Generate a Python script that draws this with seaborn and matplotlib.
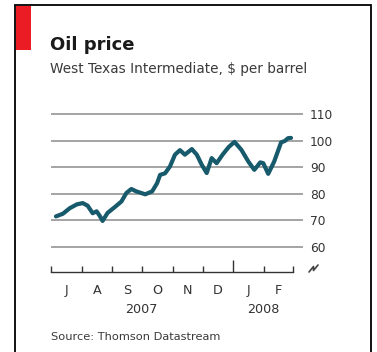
import matplotlib
matplotlib.use("Agg")
import matplotlib.pyplot as plt
import matplotlib.dates as mdates
from matplotlib.lines import Line2D
from matplotlib.patches import Rectangle
import seaborn as sns
import pandas as pd

# West Texas Intermediate spot price, $ per barrel
dates = [
    "2007-07-06", "2007-07-13", "2007-07-20", "2007-07-27", "2007-08-02",
    "2007-08-07", "2007-08-12", "2007-08-16", "2007-08-19", "2007-08-22",
    "2007-08-27", "2007-09-03", "2007-09-10", "2007-09-15", "2007-09-20",
    "2007-09-25", "2007-10-04", "2007-10-11", "2007-10-16", "2007-10-19",
    "2007-10-24", "2007-10-29", "2007-11-03", "2007-11-08", "2007-11-13",
    "2007-11-20", "2007-11-25", "2007-11-30", "2007-12-05", "2007-12-10",
    "2007-12-15", "2007-12-21", "2007-12-27", "2008-01-02", "2008-01-09",
    "2008-01-16", "2008-01-22", "2008-01-28", "2008-01-31", "2008-02-05",
    "2008-02-11", "2008-02-18", "2008-02-22", "2008-02-25", "2008-02-28",
]
prices = [
    71.5, 72.5, 74.6, 76.0, 76.5,
    75.5, 72.7, 73.4, 71.8, 69.8,
    72.8, 74.9, 77.1, 80.3, 81.8,
    80.9, 79.8, 80.9, 84.0, 87.1,
    87.7, 90.3, 94.7, 96.4, 94.7,
    96.8, 94.7, 90.9, 87.8, 93.4,
    91.5, 94.7, 97.5, 99.5, 96.5,
    92.1, 89.0, 91.8, 91.5, 87.5,
    92.1, 99.3, 99.9, 100.9, 101.0,
]
y_ticks = [60, 70, 80, 90, 100, 110]
month_labels = ["J", "A", "S", "O", "N", "D", "J", "F"]
year_labels = ["2007", "2008"]

df = pd.DataFrame({"date": pd.to_datetime(dates), "price": prices})

sns.set_theme(style="white")
plt.rcParams["font.family"] = ["DejaVu Sans"]

W, H = 377, 352
fig = plt.figure(figsize=(W / 100, H / 100), dpi=100)
fig.patch.set_facecolor("white")


def fx(px):
    return px / W


def fy(py):
    return 1 - py / H


# Frame and red tab
fig.add_artist(Rectangle((fx(15), fy(360)), fx(371) - fx(15), fy(5) - fy(360),
                         transform=fig.transFigure, fill=False,
                         edgecolor="black", linewidth=1.3))
fig.add_artist(Rectangle((fx(16), fy(50)), fx(31) - fx(16), fy(6) - fy(50),
                         transform=fig.transFigure, facecolor="#ec1c24",
                         edgecolor="none"))

fig.text(fx(50), fy(50), "Oil price", fontsize=13, fontweight="bold",
         color="#1a1a1a", ha="left", va="baseline")
fig.text(fx(50), fy(73), "West Texas Intermediate, $ per barrel",
         fontsize=9.8, color="#3a3a3a", ha="left", va="baseline")
fig.text(fx(51), fy(340), "Source: Thomson Datastream", fontsize=8.2,
         color="#3a3a3a", ha="left", va="baseline")

ax = fig.add_axes([fx(51), fy(272), fx(303) - fx(51), fy(111.3) - fy(272)])
ax.set_facecolor("white")

x0 = pd.Timestamp("2007-07-01")
x_end = pd.Timestamp("2008-03-01")
x1 = x0 + (x_end - x0) * (252 / 242)
ax.set_xlim(x0, x1)
ax.set_ylim(50.6, 111)

for v in y_ticks:
    ax.axhline(v, color="#8c8c8c", linewidth=1.1, zorder=1)

sns.lineplot(data=df, x="date", y="price", ax=ax, color="#175a6c",
             linewidth=3.0, zorder=3, solid_capstyle="round",
             solid_joinstyle="round")

ax.set_xlabel("")
ax.set_ylabel("")
ax.yaxis.tick_right()
ax.set_yticks(y_ticks)
ax.set_yticklabels([str(v) for v in y_ticks])
ax.tick_params(axis="y", length=0, pad=5, labelsize=8.8, labelcolor="#333333")

for side in ["top", "right", "left"]:
    ax.spines[side].set_visible(False)
ax.spines["bottom"].set_visible(True)
ax.spines["bottom"].set_color("#333333")
ax.spines["bottom"].set_linewidth(1.0)
ax.spines["bottom"].set_bounds(mdates.date2num(x0), mdates.date2num(x_end))

month_starts = pd.date_range("2007-07-01", "2008-03-01", freq="MS")
ax.set_xticks(month_starts)
ax.set_xticklabels([""] * len(month_starts))
ax.tick_params(axis="x", direction="in", length=4, width=1.0,
               color="#333333", bottom=True)
# taller tick at the turn of the year
jan_idx = list(month_starts).index(pd.Timestamp("2008-01-01"))
ax.xaxis.get_major_ticks()[jan_idx].tick1line.set_markersize(9)

mids = [s + (e - s) / 2 for s, e in zip(month_starts[:-1], month_starts[1:])]
for m, lab in zip(mids, month_labels):
    ax.text(m, -0.135, lab, transform=ax.get_xaxis_transform(),
            ha="center", va="baseline", fontsize=9.2, color="#333333")
year_pos = [pd.Timestamp("2007-09-30"), pd.Timestamp("2008-01-31")]
for p, lab in zip(year_pos, year_labels):
    ax.text(p, -0.255, lab, transform=ax.get_xaxis_transform(),
            ha="center", va="baseline", fontsize=9.2, color="#333333")

# axis-break mark
fig.add_artist(Line2D([fx(309), fx(313.5), fx(313.5), fx(318)],
                      [fy(272), fy(266.5), fy(270.5), fy(265)],
                      transform=fig.transFigure, color="#444444",
                      linewidth=1.2))

fig.savefig("out.png", dpi=100, facecolor="white")
